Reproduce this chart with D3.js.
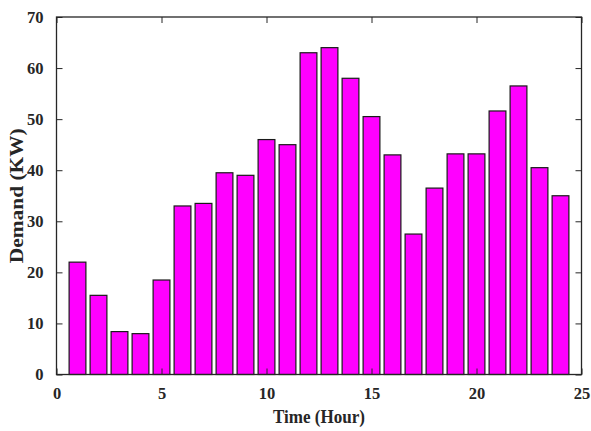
<!DOCTYPE html>
<html>
<head>
<meta charset="utf-8">
<script src="https://cdn.jsdelivr.net/npm/d3@7"></script>
<style>
  html, body { margin: 0; padding: 0; background: #fff; }
  svg { display: block; }
</style>
</head>
<body>
<svg id="chart" width="591" height="431"></svg>
<script>
const hours = [1,2,3,4,5,6,7,8,9,10,11,12,13,14,15,16,17,18,19,20,21,22,23,24];
const demand = [22,15.5,8.4,8,18.5,33,33.5,39.5,39,46,45,63,64,58,50.5,43,27.5,36.5,43.2,43.2,51.6,56.5,40.5,35];
const xTicks = [0,5,10,15,20,25];
const yTicks = [0,10,20,30,40,50,60,70];
const xLabel = "Time (Hour)";
const yLabel = "Demand (KW)";

const W = 591, H = 431;
const m = {left: 56.5, right: 9.5, top: 17, bottom: 56.5};
const pw = W - m.left - m.right, ph = H - m.top - m.bottom;
const svg = d3.select("#chart");
const g = svg.append("g").attr("transform", `translate(${m.left},${m.top})`);

const x = d3.scaleLinear().domain([0,25]).range([0,pw]);
const y = d3.scaleLinear().domain([0,70]).range([ph,0]);
const bw = 0.8;
const axisColor = "#262626";
const fontFam = "'Liberation Serif','Times New Roman',serif";

g.selectAll("rect.bar").data(hours.map((h,i)=>({h, v: demand[i]}))).enter()
  .append("rect").attr("class","bar")
  .attr("x", d => x(d.h - bw/2))
  .attr("width", d => x(d.h + bw/2) - x(d.h - bw/2))
  .attr("y", d => y(d.v))
  .attr("height", d => y(0) - y(d.v))
  .attr("fill", "#ff00ff")
  .attr("stroke", "#1a1a1a")
  .attr("stroke-width", 1.2);

function styleAxis(sel, showText) {
  sel.select(".domain").remove();
  sel.selectAll("line").attr("stroke", axisColor).attr("stroke-width", 1);
  sel.selectAll("text")
    .attr("fill", axisColor)
    .attr("font-family", fontFam)
    .attr("font-weight", "bold")
    .attr("font-size", "16.5px");
  if (!showText) sel.selectAll("text").remove();
}

// bottom
g.append("g").attr("transform", `translate(0,${ph})`)
  .call(d3.axisBottom(x).tickValues(xTicks).tickSize(-6).tickPadding(13).tickFormat(d3.format("d")))
  .call(s => styleAxis(s, true));
// top
g.append("g")
  .call(d3.axisTop(x).tickValues(xTicks).tickSize(-6).tickFormat(""))
  .call(s => styleAxis(s, false));
// left
g.append("g")
  .call(d3.axisLeft(y).tickValues(yTicks).tickSize(-6).tickPadding(13).tickFormat(d3.format("d")))
  .call(s => styleAxis(s, true));
// right
g.append("g").attr("transform", `translate(${pw},0)`)
  .call(d3.axisRight(y).tickValues(yTicks).tickSize(-6).tickFormat(""))
  .call(s => styleAxis(s, false));

// frame
g.append("rect").attr("x",0).attr("y",0).attr("width",pw).attr("height",ph)
  .attr("fill","none").attr("stroke",axisColor).attr("stroke-width",1.3);

// labels
svg.append("text")
  .attr("x", m.left + pw/2).attr("y", 422.5)
  .attr("text-anchor","middle")
  .attr("font-family", fontFam).attr("font-weight","bold").attr("font-size","18px")
  .attr("fill", axisColor)
  .attr("textLength", 92).attr("lengthAdjust","spacingAndGlyphs")
  .text(xLabel);

svg.append("text")
  .attr("transform", `translate(23,${m.top + ph/2}) rotate(-90)`)
  .attr("text-anchor","middle")
  .attr("font-family", fontFam).attr("font-weight","bold").attr("font-size","18px")
  .attr("fill", axisColor)
  .attr("textLength", 135).attr("lengthAdjust","spacingAndGlyphs")
  .text(yLabel);
</script>
</body>
</html>
